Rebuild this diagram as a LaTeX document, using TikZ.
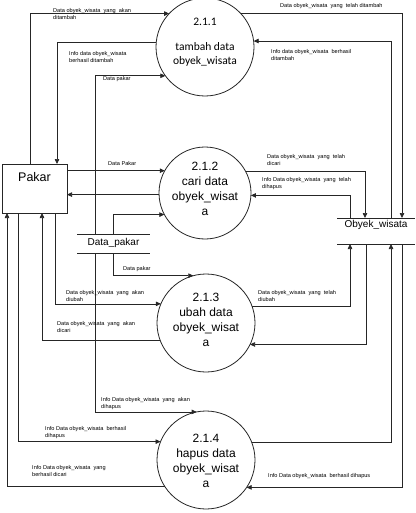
\documentclass[tikz,border=0pt]{standalone}
\usepackage{fontspec}
\setmainfont{Liberation Sans}
\newfontfamily\calfont{Carlito}
\usetikzlibrary{arrows.meta}
\begin{document}
\begin{tikzpicture}[x=1pt,y=-1pt,
  flow/.style={draw=black!85, line width=0.7pt, -{Triangle[length=5pt,width=4.5pt]}},
  plain/.style={draw=black!85, line width=0.7pt},
  proc/.style={circle, draw=black!85, line width=0.8pt, minimum size=#1, inner sep=0pt, outer sep=0pt},
  ptext/.style={font=\fontsize{12}{15}\selectfont, align=center, inner sep=0pt},
  lbl/.style={font=\fontsize{5.6}{7.2}\selectfont, align=left, anchor=north west, inner sep=0pt},
  storebox/.style={inner sep=0pt, outer sep=0pt, minimum width=#1},
]
\useasboundingbox (0,0) rectangle (415,513);

% external entity
\node[draw=black!85, line width=0.8pt, minimum width=65pt, minimum height=49pt, inner sep=0pt, outer sep=0pt] (pakar) at (34.5,188.5) {};
\node[font=\fontsize{12.5}{15}\selectfont, inner sep=0pt] (pakart) at (34.5,177) {Pakar};

% data stores
\node[storebox=73pt, minimum height=19pt] (dp) at (113.5,243.5) {};
\node[font=\fontsize{10}{12}\selectfont, inner sep=0pt] (dpt) at (113.5,243) {Data\_pakar};
\draw[plain] (dp.north west) -- (dp.north east);
\draw[plain] (dp.south west) -- (dp.south east);

\node[storebox=78pt, minimum height=26pt] (ob) at (376,231) {};
\node[font=\fontsize{10}{12}\selectfont, inner sep=0pt] (obt) at (376,225) {Obyek\_wisata};
\draw[plain] (ob.north west) -- (ob.north east);
\draw[plain] (ob.south west) -- (ob.south east);

% processes
\node[proc=98pt] (c1) at (205,47) {};
\node[font=\calfont\fontsize{11.5}{14}\selectfont, align=center, inner sep=0pt] (t1) at (205,42) {2.1.1\\[11pt]tambah data\\obyek\_wisata};
\node[proc=92pt] (c2) at (205,193) {};
\node[ptext] (t2) at (205,189) {2.1.2\\cari data\\obyek\_wisat\\a};
\node[proc=98pt] (c3) at (206,323) {};
\node[ptext] (t3) at (206,320) {2.1.3\\ubah data\\obyek\_wisat\\a};
\node[proc=98pt] (c4) at (206,460) {};
\node[ptext] (t4) at (206,461) {2.1.4\\hapus data\\obyek\_wisat\\a};

% 2.1.1 flows
\draw[flow] ([xshift=-4.5pt]pakar.north) |- (c1.137.7);
\draw[flow] (c1.175.3) -| ([xshift=22.5pt]pakar.north);
\draw[flow] ([xshift=-18.5pt]dp.north) |- (c1.216.3);
\draw[flow] (c1.43.9) -| ([xshift=26pt]ob.north);
\draw[flow] ([xshift=15pt]ob.north) |- (c1.7);

% 2.1.2 flows
\draw[flow] (pakar.east |- c2.151.4) -- (c2.151.4);
\draw[flow] (c2.182.5) -- (pakar.east |- c2.182.5);
\draw[flow] ([xshift=-0.5pt]dp.north) |- (c2.208.6);
\draw[flow] (c2.28.6) -| ([xshift=-11pt]ob.north);
\draw[flow] ([xshift=-26pt]ob.north) |- (c2.357.5);

% 2.1.3 flows
\draw[flow] ([xshift=-0.5pt]dp.south) |- (c3.105);
\draw[flow] ([xshift=20.5pt]pakar.south) |- (c3.157.2);
\draw[flow] (c3.201.6) -| ([xshift=7.5pt]pakar.south);
\draw[flow] (c3.20.3) -| ([xshift=-26pt]ob.south);
\draw[flow] ([xshift=-10pt]ob.south) |- (c3.334.6);

% 2.1.4 flows
\draw[flow] ([xshift=-18.5pt]dp.south) |- (c4.101.6);
\draw[flow] ([xshift=-16.5pt]pakar.south) |- (c4.158.4);
\draw[flow] (c4.213.4) -| ([xshift=-27.5pt]pakar.south);
\draw[flow] (c4.21.6) -| ([xshift=15pt]ob.south);
\draw[flow] ([xshift=26pt]ob.south) |- (c4.326.6);

% labels
\node[lbl] (l1) at (53,8.5) {Data obyek\_wisata~ yang~ akan\\ditambah};
\node[lbl] (l2) at (69,51.5) {Info data obyek\_wisata\\berhasil ditambah};
\node[lbl] (l3) at (103,76) {Data pakar};
\node[lbl] (l4) at (280,3.5) {Data obyek\_wisata~ yang~ telah ditambah};
\node[lbl] (l5) at (271,49.5) {Info data obyek\_wisata~ berhasil\\ditambah};
\node[lbl] (l6) at (108,161) {Data Pakar};
\node[lbl] (l7) at (267,154.5) {Data obyek\_wisata~ yang~ telah\\dicari};
\node[lbl] (l8) at (262,177.5) {Info Data obyek\_wisata~ yang~ telah\\dihapus};
\node[lbl] (l9) at (123,266.5) {Data pakar};
\node[lbl] (l10) at (66,290.5) {Data obyek\_wisata~ yang~ akan\\diubah};
\node[lbl] (l11) at (57,321.5) {Data obyek\_wisata~ yang~ akan\\dicari};
\node[lbl] (l12) at (258,290.5) {Data obyek\_wisata~ yang~ telah\\diubah};
\node[lbl] (l13) at (101,397.5) {Info Data obyek\_wisata~ yang~ akan\\dihapus};
\node[lbl] (l14) at (45,426.5) {Info Data obyek\_wisata~ berhasil\\dihapus};
\node[lbl] (l15) at (32,465.5) {Info Data obyek\_wisata~ yang\\berhasil dicari};
\node[lbl] (l16) at (268,473) {Info Data obyek\_wisata~ berhasil dihapus};
\end{tikzpicture}
\end{document}
